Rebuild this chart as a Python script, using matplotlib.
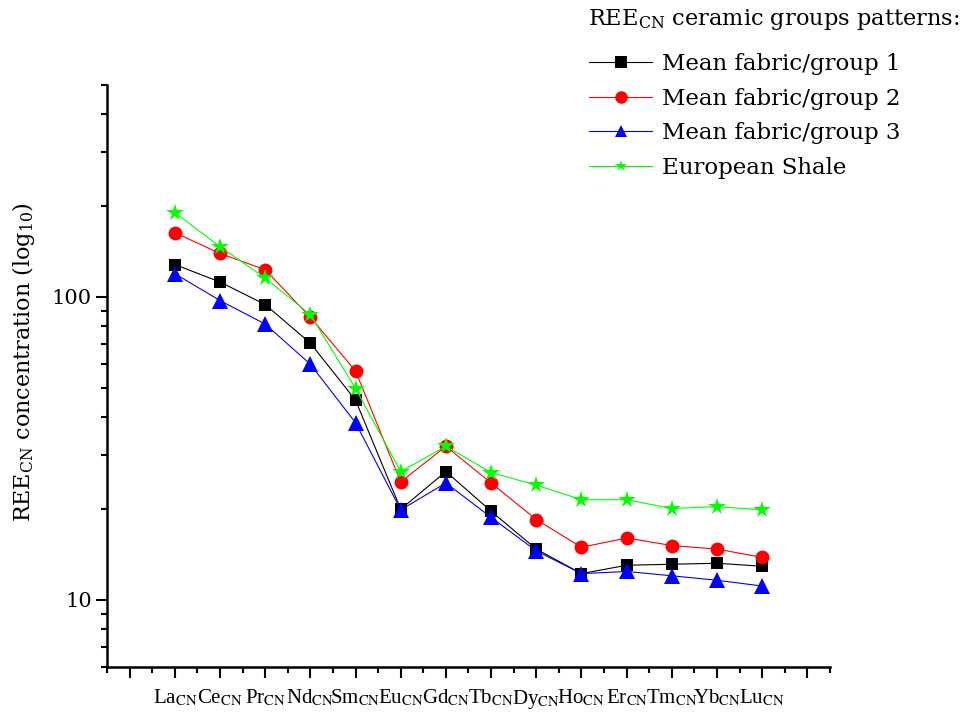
import matplotlib
matplotlib.use("Agg")
import matplotlib.pyplot as plt
from matplotlib.ticker import LogLocator, FixedLocator, NullFormatter, FixedFormatter

plt.rcParams["font.family"] = ["DejaVu Serif"]
plt.rcParams["mathtext.fontset"] = "dejavuserif"

# Rare earth elements (chondrite normalised)
elements = ["La", "Ce", "Pr", "Nd", "Sm", "Eu", "Gd",
            "Tb", "Dy", "Ho", "Er", "Tm", "Yb", "Lu"]
positions = list(range(1, 15))

group1 = [127.8, 111.9, 94.3, 70.3, 45.6, 19.9, 26.5,
          19.6, 14.7, 12.2, 13.0, 13.1, 13.2, 12.9]
group2 = [162.9, 139.0, 122.9, 85.6, 56.9, 24.5, 32.1,
          24.3, 18.4, 14.9, 16.0, 15.1, 14.7, 13.8]
group3 = [119.2, 97.2, 81.3, 59.9, 38.4, 19.8, 24.3,
          18.7, 14.5, 12.2, 12.4, 12.0, 11.6, 11.1]
euro_shale = [189.7, 146.3, 115.4, 87.3, 49.8, 26.5, 32.1,
              26.3, 23.9, 21.4, 21.4, 20.0, 20.3, 19.8]

series = [
    ("Mean fabric/group 1", group1, "black", "s", 9.0),
    ("Mean fabric/group 2", group2, "red", "o", 10.0),
    ("Mean fabric/group 3", group3, "#0000ff", "^", 11.5),
    ("European Shale", euro_shale, "#00ff00", "*", 13.0),
]

fig = plt.figure(figsize=(9.62, 7.18), dpi=100)
ax = fig.add_axes([107 / 962, 1 - 667 / 718, 723 / 962, 582 / 718])

for label, vals, color, marker, ms in series:
    ax.plot(positions, vals, color=color, lw=0.8, marker=marker,
            markersize=ms, markeredgewidth=0, label=label)

ax.set_yscale("log")
ax.set_ylim(6, 500)
ax.set_xlim(-0.5, 15.5)

ax.yaxis.set_major_locator(FixedLocator([10, 100]))
ax.yaxis.set_major_formatter(FixedFormatter(["10", "100"]))
ax.yaxis.set_minor_locator(LogLocator(base=10, subs=range(2, 10), numticks=20))
ax.yaxis.set_minor_formatter(NullFormatter())

ax.xaxis.set_major_locator(FixedLocator(list(range(0, 16))))
ax.xaxis.set_minor_locator(FixedLocator([i + 0.5 for i in range(-1, 16)]))
xlabels = [""] + [r"%s$_{\mathrm{CN}}$" % e for e in elements] + [""]
ax.xaxis.set_major_formatter(FixedFormatter(xlabels))

for side in ("top", "right"):
    ax.spines[side].set_visible(False)
for side in ("left", "bottom"):
    ax.spines[side].set_linewidth(1.8)

ax.tick_params(which="major", direction="out", length=8, width=1.5)
ax.tick_params(which="minor", direction="out", length=4.5, width=1.5)
ax.tick_params(axis="x", which="major", pad=7)
ax.tick_params(axis="y", which="major", pad=3, labelsize=15)

# element labels in a narrower serif so the subscripts fit between ticks
for t in ax.get_xticklabels():
    t.set_fontfamily("Liberation Serif")
    t.set_math_fontfamily("stix")
    t.set_fontsize(15)

ax.set_ylabel(r"REE$_{\mathrm{CN}}$ concentration (log$_{10}$)", fontsize=16)
ax.yaxis.set_label_coords(-0.097, 0.524)

fig.text(588 / 962, 1 - 20 / 718,
         r"REE$_{\mathrm{CN}}$ ceramic groups patterns:",
         fontsize=16.2, ha="left", va="center")

leg = fig.legend(loc="upper left", bbox_to_anchor=(589 / 962, 1 - 53 / 718),
                 fontsize=16.5, frameon=False,
                 handlelength=2.75, handletextpad=0.45, labelspacing=0.55,
                 borderaxespad=0, borderpad=0)
for h in leg.legend_handles:
    h.set_markersize(9)

fig.savefig("out.png", dpi=100)
